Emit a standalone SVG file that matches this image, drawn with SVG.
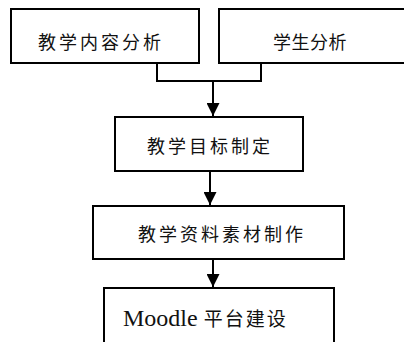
<svg xmlns="http://www.w3.org/2000/svg" width="404" height="342" viewBox="0 0 404 342">
<defs>
<style>
.box{fill:#fff;stroke:#000;stroke-width:2}
.t{font-family:"Noto Sans CJK SC","Noto Sans",sans-serif;font-size:18px;fill:#111;dominant-baseline:central;letter-spacing:3px}
.m{font-family:"Liberation Serif","Noto Sans CJK SC",serif;font-size:24px;fill:#111}
.c{fill:none;stroke:#000;stroke-width:2}
</style>
<marker id="ah" viewBox="0 0 10 10" refX="10" refY="5" markerWidth="6.5" markerHeight="6.5" markerUnits="strokeWidth" orient="auto">
<path d="M0,0 L10,5 L0,10 z" fill="#000"/>
</marker>
</defs>
<rect width="404" height="342" fill="#fff"/>
<g id="connectors">
<polyline class="c" points="157,63 157,81 261,81 261,63"/>
<line class="c" x1="213" y1="81" x2="213" y2="116" marker-end="url(#ah)"/>
<line class="c" x1="210" y1="171" x2="210" y2="205" marker-end="url(#ah)"/>
<line class="c" x1="213" y1="259" x2="213" y2="287" marker-end="url(#ah)"/>
</g>
<g id="n1">
<rect class="box" x="11" y="9" width="188" height="54"/>
<text class="t" x="38" y="41">教学内容分析</text>
</g>
<g id="n2">
<rect class="box" x="219" y="9" width="200" height="54"/>
<text class="t" x="273" y="41" style="letter-spacing:0.5px">学生分析</text>
</g>
<g id="n3">
<rect class="box" x="115" y="117" width="188" height="54"/>
<text class="t" x="147" y="145">教学目标制定</text>
</g>
<g id="n4">
<rect class="box" x="93" y="206" width="251" height="53"/>
<text class="t" x="138" y="233">教学资料素材制作</text>
</g>
<g id="n5">
<rect class="box" x="104" y="288" width="230" height="70"/>
<text class="m" x="123" y="326">Moodle <tspan style="font-family:'Noto Sans CJK SC',sans-serif;font-size:19px;letter-spacing:2px">平台建设</tspan></text>
</g>
</svg>
